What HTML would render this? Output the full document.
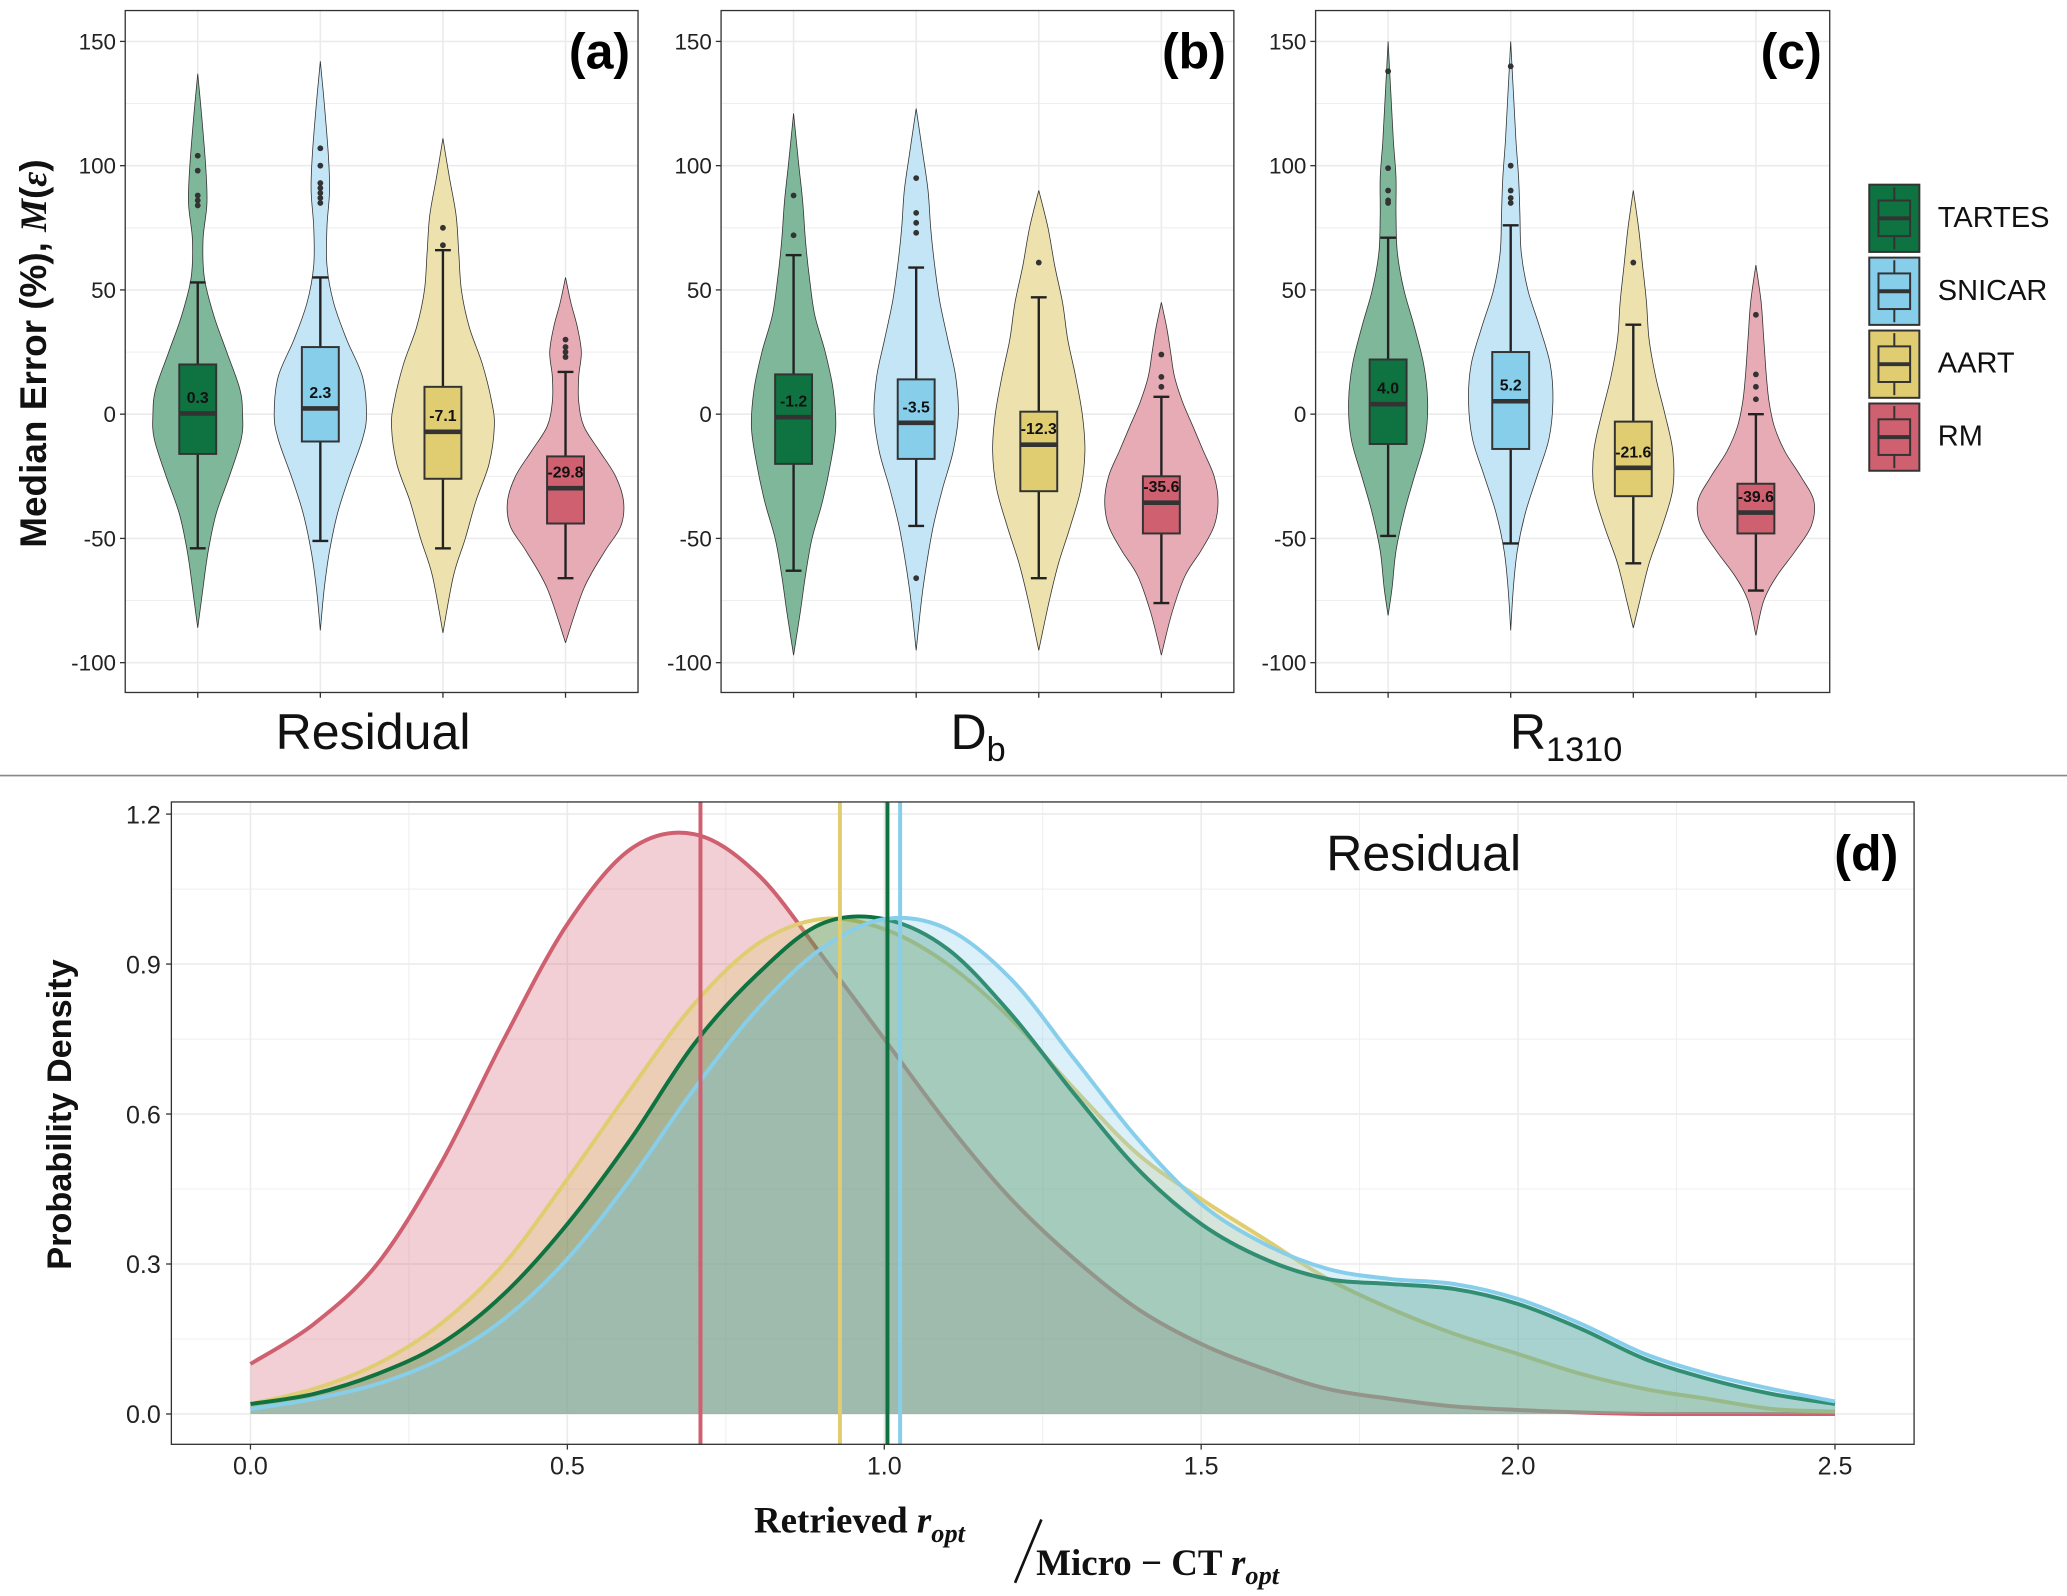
<!DOCTYPE html>
<html><head><meta charset="utf-8"><style>
html,body{margin:0;padding:0;background:#fff}
svg{display:block}
text{font-family:"Liberation Sans",sans-serif}
.serif{font-family:"Liberation Serif",serif}
</style></head><body>
<svg id="fig" width="2067" height="1596" viewBox="0 0 1568 1210" preserveAspectRatio="none" xmlns="http://www.w3.org/2000/svg"></svg>
<script>
// ---------- DATA ----------
const models = ["TARTES","SNICAR","AART","RM"];
const panelNames = ["Residual","Db","R1310"];
const yTicks = [150,100,50,0,-50,-100];
// box stats: [q1, median, q3, whiskerLow, whiskerHigh]
const boxA = [[-16,0.3,20,-54,53],[-11,2.3,27,-51,55],[-26,-7.1,11,-54,66],[-44,-29.8,-17,-66,17]];
const boxB = [[-20,-1.2,16,-63,64],[-18,-3.5,14,-45,59],[-31,-12.3,1,-66,47],[-48,-35.6,-25,-76,7]];
const boxC = [[-12,4.0,22,-49,71],[-14,5.2,25,-52,76],[-33,-21.6,-3,-60,36],[-48,-39.6,-28,-71,0]];
const outA = [[104,98,88,86,84],[107,100,93,91,89,87,85],[75,68],[30,27,25,23]];
const outB = [[88,72],[95,81,77,73,-66],[61],[24,15,11]];
const outC = [[138,99,90,86,85],[140,100,90,87,85],[61],[40,16,11,6]];
// violin profiles: value levels and half-widths
const vLevA = [[137,120,100,85,70,55,40,25,10,0,-10,-25,-40,-55,-70,-86],[142,125,105,90,75,60,45,30,15,0,-10,-25,-40,-55,-70,-87],[111,95,80,65,50,35,20,5,-5,-20,-35,-50,-65,-88],[55,45,35,25,15,5,-5,-15,-25,-35,-45,-55,-70,-92]];
const vWidA = [[0,3,6,7,4,5,12,22,32,34,33,24,14,8,4,0],[0,3,6,7,5,5,10,20,32,35,32,22,13,7,3,0],[0,5,10,12,14,20,30,37,39,35,25,17,8,0],[0,4,9,12,10,10,14,26,38,44,42,30,14,0]];
const vLevB = [[121,100,85,70,55,40,25,10,-5,-20,-35,-50,-65,-80,-97],[123,105,90,75,60,45,30,15,0,-15,-30,-45,-60,-75,-95],[90,75,60,45,30,15,0,-15,-30,-45,-60,-75,-95],[45,35,25,15,5,-5,-15,-25,-35,-45,-55,-65,-80,-97]];
const vWidB = [[0,4,7,9,12,16,24,30,32,28,22,14,9,5,0],[0,5,9,11,14,18,24,30,32,28,20,13,8,4,0],[0,7,12,18,22,28,33,35,32,24,15,8,0],[0,4,7,10,16,24,32,40,43,40,30,18,8,0]];
const vLevC = [[150,130,110,95,80,65,50,35,20,5,-10,-25,-40,-55,-70,-81],[150,130,110,95,80,65,50,35,20,5,-10,-25,-40,-55,-70,-87],[90,75,60,45,30,15,0,-15,-30,-45,-60,-75,-86],[60,45,30,15,5,-5,-15,-25,-35,-45,-55,-65,-75,-89]];
const vWidC = [[0,2,4,6,6,7,12,20,27,30,28,20,12,6,3,0],[0,2,4,6,7,8,13,22,30,32,29,20,11,5,2,0],[0,4,7,10,12,17,24,30,30,22,12,5,0],[0,4,6,8,10,14,22,34,44,42,30,16,6,0]];
// density panel
const dX = [0,0.1,0.2,0.3,0.4,0.5,0.6,0.7,0.8,0.9,1.0,1.1,1.2,1.3,1.4,1.5,1.6,1.7,1.8,1.9,2.0,2.1,2.2,2.3,2.4,2.5];
const dRM = [0.10,0.18,0.30,0.50,0.75,0.98,1.13,1.16,1.08,0.92,0.75,0.58,0.43,0.31,0.21,0.14,0.09,0.05,0.03,0.015,0.008,0.003,0,0,0,0];
const dAART = [0.02,0.05,0.10,0.18,0.30,0.47,0.65,0.82,0.94,0.99,0.97,0.90,0.79,0.65,0.52,0.43,0.35,0.27,0.21,0.16,0.12,0.08,0.05,0.03,0.01,0.005];
const dTARTES = [0.02,0.04,0.08,0.14,0.24,0.38,0.55,0.74,0.88,0.98,0.99,0.93,0.80,0.64,0.49,0.38,0.31,0.27,0.26,0.25,0.22,0.17,0.11,0.07,0.04,0.02];
const dSNICAR = [0.01,0.03,0.06,0.11,0.19,0.31,0.47,0.65,0.81,0.93,0.99,0.97,0.87,0.71,0.55,0.42,0.34,0.29,0.27,0.26,0.23,0.18,0.12,0.08,0.05,0.025];
const dMedians = [1.005,1.025,0.93,0.71];
const dXTicks = [0.0,0.5,1.0,1.5,2.0,2.5];
const dYTicks = [0.0,0.3,0.6,0.9,1.2];

// ---------- STYLE ----------
const boxCol = ["#0e7340","#87ceeb","#e0cd72","#cf6070"];
const vioCol = ["#7fb79a","#c3e5f6","#ede2ae","#e6abb4"];
const NS="http://www.w3.org/2000/svg";
const svg=document.getElementById('fig');
function el(tag,attrs,parent){const e=document.createElementNS(NS,tag);for(const k in attrs)e.setAttribute(k,attrs[k]);(parent||svg).appendChild(e);return e;}
function crPath(pts){let d="M"+pts[0][0]+","+pts[0][1];for(let i=0;i<pts.length-1;i++){const p0=pts[Math.max(0,i-1)],p1=pts[i],p2=pts[i+1],p3=pts[Math.min(pts.length-1,i+2)];
const c1=[p1[0]+(p2[0]-p0[0])/6,p1[1]+(p2[1]-p0[1])/6],c2=[p2[0]-(p3[0]-p1[0])/6,p2[1]-(p3[1]-p1[1])/6];d+=` C${c1[0].toFixed(1)},${c1[1].toFixed(1)} ${c2[0].toFixed(1)},${c2[1].toFixed(1)} ${p2[0].toFixed(1)},${p2[1].toFixed(1)}`;}return d;}

// ---------- VIOLIN PANELS ----------
const panels=[{x0:95,x1:484,box:boxA,out:outA,lev:vLevA,wid:vWidA,tag:"(a)"},{x0:547,x1:936,box:boxB,out:outB,lev:vLevB,wid:vWidB,tag:"(b)"},{x0:998,x1:1388,box:boxC,out:outC,lev:vLevC,wid:vWidC,tag:"(c)"}];
const py0=8,py1=525;
const ys=v=>314-v*1.884;
panels.forEach((P,pi)=>{
  const g=el('g',{});
  
  
  for(let v=-100;v<=150;v+=25){el('line',{x1:P.x0,x2:P.x1,y1:ys(v),y2:ys(v),stroke:"#ebebeb","stroke-width":v%50===0?1.2:0.6},g);}
  const xs=i=>P.x0+55+i*93;
  models.forEach((m,i)=>{el('line',{x1:xs(i),x2:xs(i),y1:py0,y2:py1,stroke:"#ebebeb","stroke-width":1.2},g);});
  el('rect',{x:P.x0,y:py0,width:P.x1-P.x0,height:py1-py0,fill:"none",stroke:"#333","stroke-width":1},g);
  yTicks.forEach(v=>{const t=el('text',{x:P.x0-7,y:ys(v)+6,"text-anchor":"end","font-size":17,fill:"#222"},g);t.textContent=v;
    
    
    el('line',{x1:P.x0-4,x2:P.x0,y1:ys(v),y2:ys(v),stroke:"#333"},g);});
  models.forEach((m,i)=>{
    const cx=xs(i);
    el('line',{x1:cx,x2:cx,y1:py1,y2:py1+4,stroke:"#333"},g);
    const L=P.lev[i],W=P.wid[i];
    const right=L.map((v,k)=>[cx+W[k],ys(v)]);
    const left=L.map((v,k)=>[cx-W[k],ys(v)]).reverse();
    const d=crPath(right)+" L"+crPath(left).slice(1)+" Z";
    const vp=el('path',{d:d,fill:vioCol[i],stroke:"#333","stroke-width":0.6},g);
    
    
    const b=P.box[i];
    el('line',{x1:cx,x2:cx,y1:ys(b[4]),y2:ys(b[3]),stroke:"#222","stroke-width":1.8},g);
    el('line',{x1:cx-6,x2:cx+6,y1:ys(b[4]),y2:ys(b[4]),stroke:"#222","stroke-width":1.8},g);
    el('line',{x1:cx-6,x2:cx+6,y1:ys(b[3]),y2:ys(b[3]),stroke:"#222","stroke-width":1.8},g);
    const r=el('rect',{x:cx-14,y:ys(b[2]),width:28,height:ys(b[0])-ys(b[2]),fill:boxCol[i],stroke:"#333","stroke-width":1.5},g);
    
    
    el('line',{x1:cx-14,x2:cx+14,y1:ys(b[1]),y2:ys(b[1]),stroke:"#333","stroke-width":3.5},g);
    P.out[i].forEach(o=>el('circle',{cx:cx,cy:ys(o),r:2.2,fill:"#333"},g));
    const t=el('text',{x:cx,y:ys(b[1])-8,"text-anchor":"middle","font-size":12,"font-weight":"bold",fill:"#111"},g);
    t.textContent=b[1].toFixed(1);
    
    
  });
  const tg=el('text',{x:P.x1-6,y:52,"text-anchor":"end","font-size":38,"font-weight":"bold",fill:"#000"},g);tg.textContent=P.tag;
  
  
});
function xlab(x,main,sub){const t=el('text',{x:x,y:568,"text-anchor":"middle","font-size":38,fill:"#111"});t.textContent=main;
  
  
  if(sub){const s=el('tspan',{"font-size":26,dy:9},t);s.textContent=sub;}}
xlab(283,"Residual");xlab(742,"D","b");xlab(1188,"R","1310");
const yt=el('text',{transform:"translate(35,268) rotate(-90)","text-anchor":"middle","font-size":28,"font-weight":"bold",fill:"#111"});


yt.innerHTML='Median Error (%), <tspan class="serif" font-style="italic">M</tspan>(<tspan class="serif" font-style="italic">ε</tspan>)';
models.forEach((m,i)=>{const y=140+i*55.3;
  const g=el('g',{});
  
  
  el('rect',{x:1418,y:y,width:38,height:51,fill:boxCol[i],stroke:"#333","stroke-width":1.5},g);
  el('line',{x1:1437,x2:1437,y1:y+2,y2:y+49,stroke:"#333","stroke-width":1.5},g);
  el('rect',{x:1425,y:y+12,width:24,height:27,fill:boxCol[i],stroke:"#333","stroke-width":1.5},g);
  el('line',{x1:1425,x2:1449,y1:y+25.5,y2:y+25.5,stroke:"#333","stroke-width":3},g);
  const t=el('text',{x:1470,y:y+32,"font-size":22,fill:"#111"},g);t.textContent=m;});
el('line',{x1:0,x2:1568,y1:588,y2:588,stroke:"#888","stroke-width":1.2});

// ---------- DENSITY PANEL ----------
const dx0=130,dx1=1452,dy0=608,dy1=1095;
const sx=v=>190+v*480.8, sy=v=>1072-v*379;
const dg=el('g',{});


for(let v=0;v<=2.5001;v+=0.25)el('line',{x1:sx(v),x2:sx(v),y1:dy0,y2:dy1,stroke:"#ebebeb","stroke-width":Math.abs(v*2-Math.round(v*2))<0.01?1.2:0.6},dg);
for(let v=0;v<=1.2001;v+=0.15)el('line',{x1:dx0,x2:dx1,y1:sy(v),y2:sy(v),stroke:"#ebebeb","stroke-width":Math.abs(v/0.3-Math.round(v/0.3))<0.01?1.2:0.6},dg);
const dens=[dRM,dAART,dTARTES,dSNICAR], dIdx=[3,2,0,1];
dens.forEach((arr,k)=>{const i=dIdx[k];
  const pts=dX.map((x,j)=>[sx(x),sy(arr[j])]);
  const line=crPath(pts);
  const a=el('path',{d:line+` L${sx(2.5)},${sy(0)} L${sx(0)},${sy(0)} Z`,fill:boxCol[i],"fill-opacity":0.3,stroke:"none"},dg);
  
  
  const l=el('path',{d:line,fill:"none",stroke:boxCol[i],"stroke-width":3},dg);
  
  
});
[3,2,0,1].forEach(i=>{const v=el('line',{x1:sx(dMedians[i]),x2:sx(dMedians[i]),y1:dy0,y2:dy1,stroke:boxCol[i],"stroke-width":3},dg);
  
  });
el('rect',{x:dx0,y:dy0,width:dx1-dx0,height:dy1-dy0,fill:"none",stroke:"#333","stroke-width":1},dg);
dXTicks.forEach(v=>{el('line',{x1:sx(v),x2:sx(v),y1:dy1,y2:dy1+4,stroke:"#333"},dg);
  const t=el('text',{x:sx(v),y:1118,"text-anchor":"middle","font-size":19,fill:"#222"},dg);t.textContent=v.toFixed(1);});
dYTicks.forEach(v=>{el('line',{x1:dx0-4,x2:dx0,y1:sy(v),y2:sy(v),stroke:"#333"},dg);
  const t=el('text',{x:dx0-8,y:sy(v)+7,"text-anchor":"end","font-size":19,fill:"#222"},dg);t.textContent=v.toFixed(1);});
const rl=el('text',{x:1080,y:660,"text-anchor":"middle","font-size":38,fill:"#111"});rl.textContent="Residual";


const dt=el('text',{x:1440,y:660,"text-anchor":"end","font-size":38,"font-weight":"bold",fill:"#000"});dt.textContent="(d)";


const pd=el('text',{transform:"translate(54,845) rotate(-90)","text-anchor":"middle","font-size":26,"font-weight":"bold",fill:"#111"});pd.textContent="Probability Density";


const xt=el('g',{});


xt.innerHTML='<text class="serif" x="572" y="1162" font-size="28" font-weight="bold" fill="#111">Retrieved <tspan font-style="italic">r</tspan><tspan font-style="italic" font-size="20" dy="7">opt</tspan></text>'+
'<line x1="790" y1="1152" x2="770" y2="1200" stroke="#111" stroke-width="2"/>'+
'<text class="serif" x="786" y="1194" font-size="28" font-weight="bold" fill="#111">Micro − CT <tspan font-style="italic">r</tspan><tspan font-style="italic" font-size="20" dy="7">opt</tspan></text>';
</script>
</body></html>
